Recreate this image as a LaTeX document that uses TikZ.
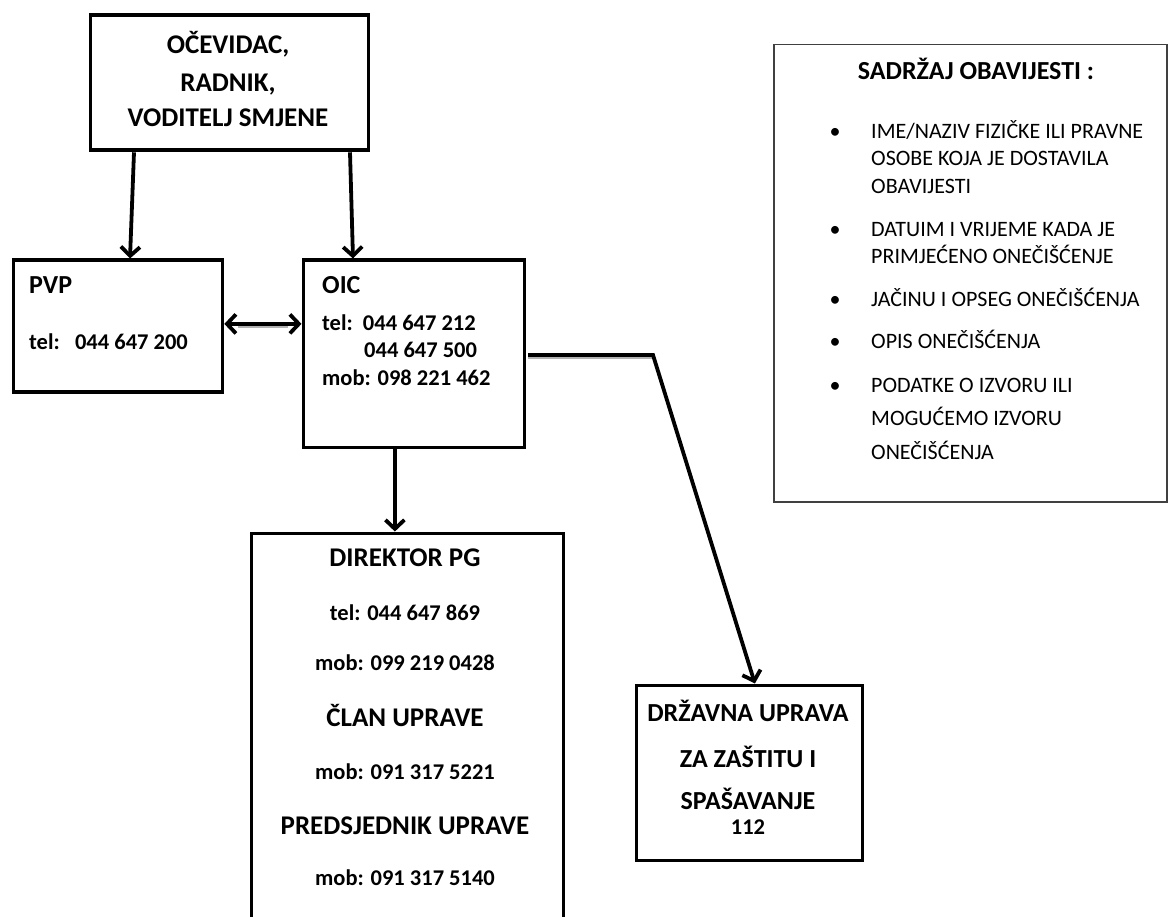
\documentclass[tikz,border=0pt]{standalone}
\usepackage{fontspec}
\setmainfont{Carlito}
\usetikzlibrary{arrows.meta}
\tikzset{barbtip/.tip={Straight Barb[length=9pt,width=19pt]}}
\begin{document}
\begin{tikzpicture}[x=1pt,y=-1pt,
  box/.style={draw=black, line width=3.8pt, rectangle, inner sep=0, anchor=north west},
  infobox/.style={draw=black!75, line width=1.5pt, rectangle, inner sep=0, anchor=north west},
  txt/.style={inner sep=0, anchor=base},
  txtl/.style={inner sep=0, anchor=base west},
  hd/.style={font=\bfseries\fontsize{27}{32}\selectfont},
  hdz/.style={font=\bfseries\fontsize{26}{31}\selectfont},
  sub/.style={font=\bfseries\fontsize{26}{30}\selectfont},
  ph/.style={font=\bfseries\fontsize{22.5}{27}\selectfont},
  ttl/.style={font=\bfseries\fontsize{26}{30}\selectfont},
  it/.style={font=\fontsize{22}{26}\selectfont},
  shadowline/.style={black!30, line width=3pt},
  arr/.style={line width=3.8pt, line join=miter, -barbtip},
  darr/.style={line width=3.8pt, barbtip-barbtip}
]
\useasboundingbox (0,0) rectangle (1168,917);
\fill[white] (0,0) rectangle (1168,917);

% boxes
\node[box, minimum width=278pt, minimum height=135pt] (top) at (88.5,13.5) {};
\node[box, minimum width=209pt, minimum height=132pt] (pvp) at (11.5,258.5) {};
\node[box, minimum width=221pt, minimum height=187pt] (oic) at (301.5,258.5) {};
\node[box, minimum width=312pt, minimum height=420pt] (dir) at (249.5,531.5) {};
\node[box, minimum width=226pt, minimum height=175pt] (drz) at (634.5,683.5) {};
\node[infobox, minimum width=393pt, minimum height=457pt] (info) at (773,44) {};

% top box text
\node[txt, hd] (t1) at (228,54) {OČEVIDAC,};
\node[txt, hd] (t2) at (228,92) {RADNIK,};
\node[txt, hd] (t3) at (228,127) {VODITELJ SMJENE};

% PVP
\node[txtl, sub] (p1) at (29,294) {PVP};
\node[txtl, ph] (p2) at (29,350) {tel:\ \ \ 044 647 200};

% OIC
\node[txtl, sub] (o1) at (322,294) {OIC};
\node[txtl, ph] (o2) at (322,331) {tel:\ \ 044 647 212};
\node[txtl, ph] (o3) at (364,358) {044 647 500};
\node[txtl, ph] (o4) at (322,386) {mob: 098 221 462};

% Direktor
\node[txt, hd] (d1) at (405,566) {DIREKTOR PG};
\node[txt, ph] (d2) at (405,620) {tel: 044 647 869};
\node[txt, ph] (d3) at (405,670) {mob: 099 219 0428};
\node[txt, hd] (d4) at (405,726) {ČLAN UPRAVE};
\node[txt, ph] (d5) at (405,779) {mob: 091 317 5221};
\node[txt, hd] (d6) at (405,834) {PREDSJEDNIK UPRAVE};
\node[txt, ph] (d7) at (405,885) {mob: 091 317 5140};

% Drzavna uprava
\node[txt, hdz] (z1) at (748,721) {DRŽAVNA UPRAVA};
\node[txt, hdz] (z2) at (748,767) {ZA ZAŠTITU I};
\node[txt, hdz] (z3) at (748,809) {SPAŠAVANJE};
\node[txt, ph] (z4) at (748,834) {112};

% info box
\node[txt, ttl] (i0) at (976,80) {SADRŽAJ OBAVIJESTI :};
\foreach \n/\y in {b1/139, b2/237, b3/307, b4/349, b5/392} {
  \node[txt, it] (\n) at (835,\y) {•};
}
\node[txtl, it] (i1) at (871,139) {IME/NAZIV FIZIČKE ILI PRAVNE};
\node[txtl, it] (i2) at (871,166) {OSOBE KOJA JE DOSTAVILA};
\node[txtl, it] (i3) at (871,194) {OBAVIJESTI};
\node[txtl, it] (i4) at (871,237) {DATUIM I VRIJEME KADA JE};
\node[txtl, it] (i5) at (871,264) {PRIMJEĆENO ONEČIŠĆENJE};
\node[txtl, it] (i6) at (871,307) {JAČINU I OPSEG ONEČIŠĆENJA};
\node[txtl, it] (i7) at (871,349) {OPIS ONEČIŠĆENJA};
\node[txtl, it] (i8) at (871,392) {PODATKE O IZVORU ILI};
\node[txtl, it] (i9) at (871,425) {MOGUĆEMO IZVORU};
\node[txtl, it] (i10) at (871,459) {ONEČIŠĆENJA};

% connectors
\draw[arr] ([xshift=45.5pt]top.south west) -- ([xshift=118.5pt]pvp.north west);
\draw[arr] ([xshift=261.5pt]top.south west) -- ([xshift=51.5pt]oic.north west);
\draw[shadowline] ([yshift=-0.5pt,xshift=14pt]pvp.east) -- ([yshift=-0.5pt,xshift=-14pt]oic.west |- pvp.east);
\draw[darr] ([yshift=2.5pt]pvp.east) -- ([yshift=2.5pt]oic.west |- pvp.east);
\draw[arr] ([xshift=-19pt]oic.south) -- ([xshift=-19pt]oic.south |- dir.north);
\coordinate (bend) at (653,355);
\draw[shadowline] ([yshift=-3pt,xshift=1.9pt]oic.east |- bend) -- ([yshift=-3pt]bend);
\draw[arr] ([xshift=1.9pt]oic.east |- bend) -- (bend) -- ([xshift=5.5pt]drz.north);
\end{tikzpicture}
\end{document}
